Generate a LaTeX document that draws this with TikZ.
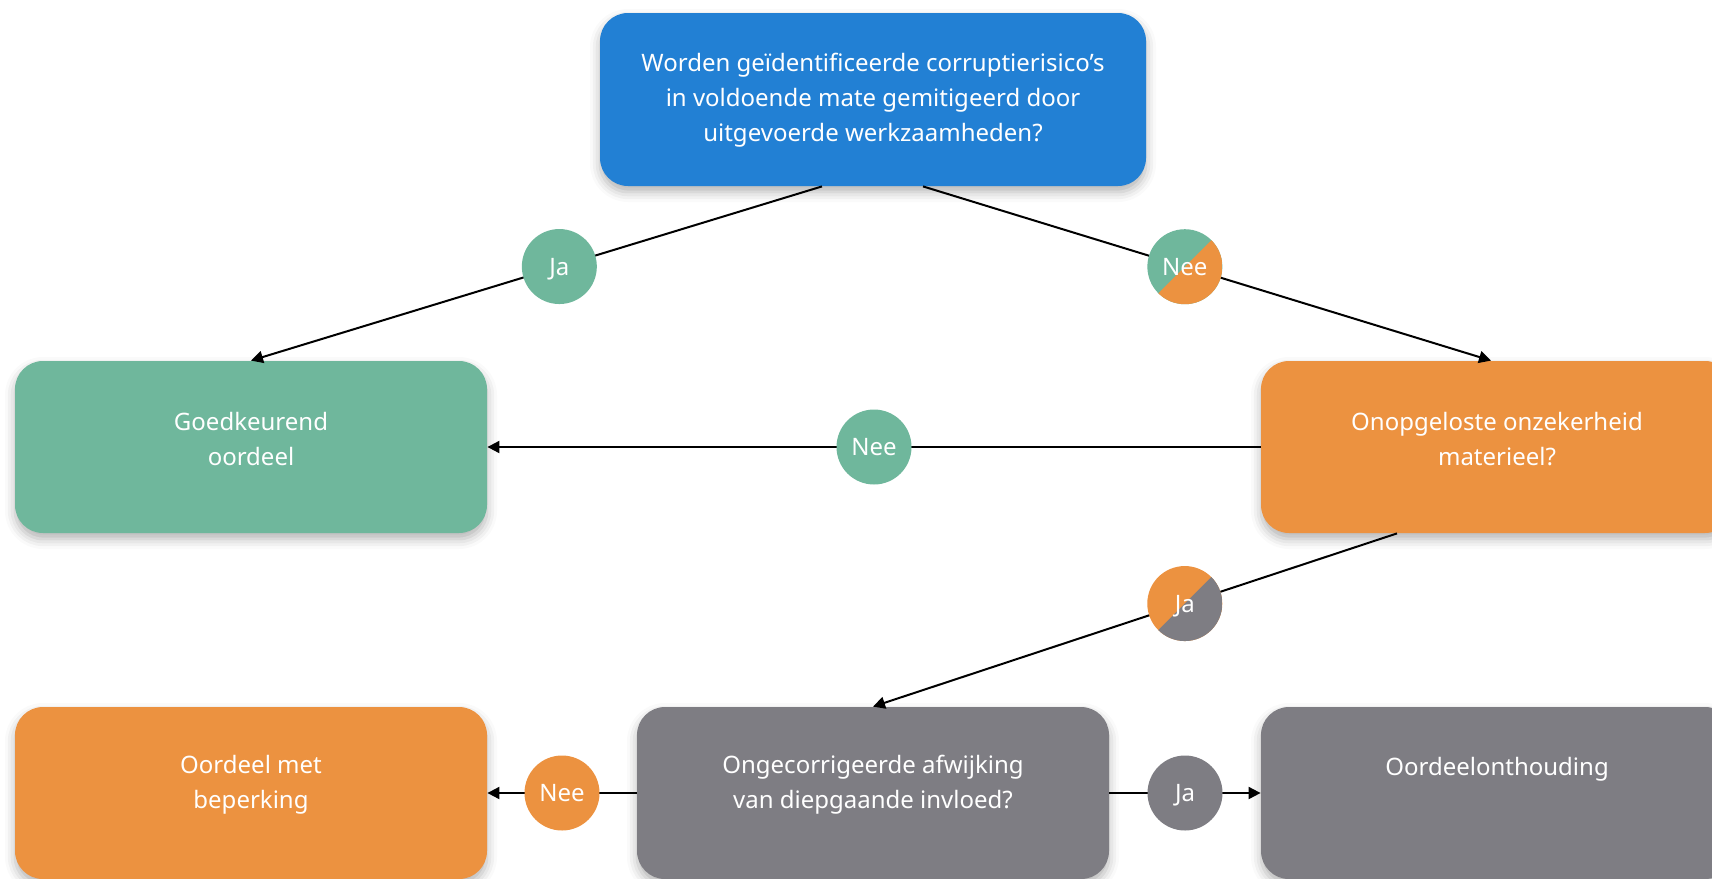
\documentclass[tikz,border=0pt]{standalone}
\usepackage{fontspec}
\setmainfont{Noto Sans}
\usetikzlibrary{arrows.meta,shadows.blur}
\definecolor{kblauw}{HTML}{2280D4}
\definecolor{kgroen}{HTML}{6FB79C}
\definecolor{koranje}{HTML}{EC9240}
\definecolor{kgrijs}{HTML}{7E7D83}
\begin{document}
\begin{tikzpicture}[x=0.5pt,y=-0.5pt,
		blok/.style={rectangle, rounded corners=14pt, minimum width=236pt, minimum height=86pt, inner sep=0pt,
			blur shadow={shadow xshift=0pt, shadow yshift=-3pt, shadow blur radius=5pt, shadow opacity=30}},
		tekst/.style={text=white, align=center, font=\fontsize{12}{17.5}\selectfont},
		keuze/.style={circle, minimum size=37.5pt, inner sep=0pt, text=white, text depth=0pt, font=\fontsize{12}{14}\selectfont},
		splits/.style={path picture={\fill[#1] (path picture bounding box.north east) -- (path picture bounding box.south east) -- (path picture bounding box.south west) -- cycle;}},
		pijl/.style={line width=1pt, -{Triangle[length=6pt,width=6pt]}}]
		\useasboundingbox (0,0) rectangle (1712,878);
		\clip (0,0) rectangle (1712,878);
		%
		\node[blok, fill=kblauw, minimum width=273pt, minimum height=86.5pt] (vraag) at (873,99.5) {};
		\node[tekst] (vraag-t) at ([yshift=-0.5pt]vraag.center) {Worden geïdentificeerde corruptierisico’s\\in voldoende mate gemitigeerd door\\uitgevoerde werkzaamheden?};
		%
		\node[blok, fill=kgroen] (goed) at (251,447) {};
		\node[tekst] (goed-t) at ([yshift=4pt]goed.center) {Goedkeurend\\oordeel};
		\node[blok, fill=koranje] (onzeker) at (1497,447) {};
		\node[tekst] (onzeker-t) at ([yshift=4pt]onzeker.center) {Onopgeloste onzekerheid\\materieel?};
		%
		\node[blok, fill=koranje] (beperk) at (251,793) {};
		\node[tekst] (beperk-t) at ([yshift=4pt]beperk.center) {Oordeel met\\beperking};
		\node[blok, fill=kgrijs] (afwijk) at (873,793) {};
		\node[tekst] (afwijk-t) at ([yshift=4pt]afwijk.center) {Ongecorrigeerde afwijking\\van diepgaande invloed?};
		\node[blok, fill=kgrijs] (onthoud) at (1497,793) {};
		\node[tekst] (onthoud-t) at ([yshift=12pt]onthoud.center) {Oordeelonthouding};
		%
		\draw[pijl] ([xshift=-25.5pt]vraag.south) -- (goed.north) node[keuze, fill=kgroen, pos=0.46] (ja1) {Ja};
		\draw[pijl] ([xshift=25pt]vraag.south) -- ([xshift=-3pt]onzeker.north) node[keuze, fill=kgroen, splits=koranje, pos=0.461] (nee1) {Nee};
		\draw[pijl] (onzeker.west) -- (goed.east) node[keuze, fill=kgroen, pos=0.5] (nee2) {Nee};
		\draw[pijl] ([xshift=-50pt]onzeker.south) -- (afwijk.north) node[keuze, fill=koranje, splits=kgrijs, pos=0.405] (ja2) {Ja};
		%
		\draw[pijl] (afwijk.west) -- (beperk.east) node[keuze, fill=koranje, pos=0.5] (nee3) {Nee};
		\draw[pijl] (afwijk.east) -- (onthoud.west) node[keuze, fill=kgrijs, pos=0.5] (ja3) {Ja};
		%
	\end{tikzpicture}
\end{document}
